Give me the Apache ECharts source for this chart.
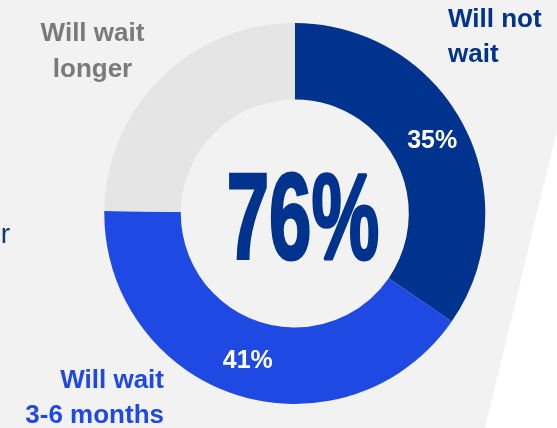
<!DOCTYPE html>
<html>
<head>
<meta charset="utf-8">
<script src="https://cdn.jsdelivr.net/npm/echarts@6/dist/echarts.min.js"></script>
<style>html,body{margin:0;padding:0;background:#f2f2f2;}#c{width:557px;height:428px;}</style>
</head>
<body>
<div id="c"></div>
<script>
// Data
const categories = ['Will not wait', 'Will wait 3-6 months', 'Will wait longer'];
const values = [34.6, 40.6, 24.8];
const valueLabels = ['35%', '41%', ''];
const nameLines = [['Will not', 'wait'], ['Will wait', '3-6 months'], ['Will wait', 'longer']];
const centerLabel = '76%';
const sideFragment = 'r';

const colors = ['#00338d', '#1e49e2', '#e5e5e5'];
const nameColors = ['#00338d', '#1e49e2', '#7a7a7a'];

const chart = echarts.init(document.getElementById('c'));
const F = '"Liberation Sans", Arial, sans-serif';

chart.setOption({
  backgroundColor: '#f2f2f2',
  animation: false,
  graphic: [
    { type: 'polygon', z: -10, shape: { points: [[557, 130], [485, 428], [557, 428]] }, style: { fill: '#ffffff' }, silent: true },
    { type: 'text', x: 448, y: 37.5, z: 10, style: { text: nameLines[0].join('\n'), font: 'bold 26px ' + F, fill: nameColors[0], align: 'left', verticalAlign: 'middle', lineHeight: 35.5 } },
    { type: 'text', x: 164, y: 398, z: 10, style: { text: nameLines[1].join('\n'), font: 'bold 26px ' + F, fill: nameColors[1], align: 'right', verticalAlign: 'middle', lineHeight: 35 } },
    { type: 'text', x: 92.5, y: 52, z: 10, style: { text: nameLines[2].join('\n'), font: 'bold 26px ' + F, fill: nameColors[2], align: 'center', verticalAlign: 'middle', lineHeight: 36 } },
    { type: 'text', x: 303, y: 225, z: 10, scaleX: 0.62, style: { text: centerLabel, font: 'bold 123px ' + F, fill: '#00338d', stroke: '#00338d', lineWidth: 3, align: 'center', verticalAlign: 'middle' } },
    { type: 'text', x: 10, y: 235, z: 10, style: { text: sideFragment, font: '28px ' + F, fill: '#12357f', align: 'right', verticalAlign: 'middle' } }
  ],
  series: [{
    type: 'pie',
    center: [294.8, 213.5],
    radius: [114, 190.5],
    startAngle: 90,
    clockwise: true,
    silent: true,
    itemStyle: { borderWidth: 0 },
    label: {
      show: true,
      position: 'inside',
      color: '#ffffff',
      fontFamily: F,
      fontWeight: 'bold',
      fontSize: 25,
      formatter: p => valueLabels[p.dataIndex]
    },
    labelLine: { show: false },
    data: categories.map((c, i) => ({ name: c, value: values[i], itemStyle: { color: colors[i] } }))
  }]
});
</script>
</body>
</html>
